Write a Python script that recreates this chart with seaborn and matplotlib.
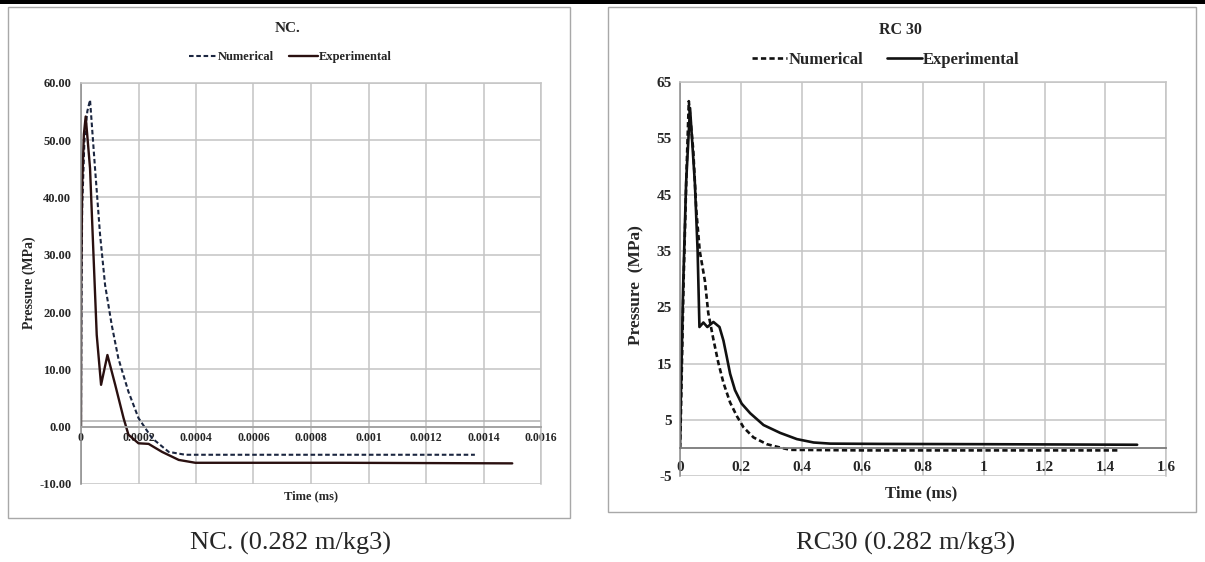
import matplotlib
matplotlib.use("Agg")
import matplotlib.pyplot as plt
import matplotlib.ticker as mticker
from matplotlib.patches import Rectangle
import pandas as pd
import seaborn as sns

# ---------------- data ----------------
# NC. panel  (time axis values as printed on the axis, pressure in MPa)
nc_num_time = [0, 0.0000015, 0.000004, 0.000012, 0.000022, 0.0000314, 0.0000489,
               0.0000663, 0.0000838, 0.000107, 0.00013, 0.000165, 0.0002,
               0.000247, 0.000305, 0.000363, 0.0008, 0.00137]
nc_num_pressure = [0, 20, 38, 50, 55, 57, 45, 33.5, 24.7, 17.7, 11.9, 6.1, 1.5,
                   -2.0, -4.4, -4.9, -4.9, -4.9]
nc_exp_time = [0, 0.0000005, 0.000004, 0.00001, 0.0000163, 0.0000314, 0.000043,
               0.0000547, 0.0000698, 0.0000919, 0.000119, 0.000148, 0.000165,
               0.0002, 0.000235, 0.000282, 0.00034, 0.000398, 0.0009, 0.0015]
nc_exp_pressure = [0, 25, 42, 51, 54.1, 45.1, 30.5, 16, 7.3, 12.5, 7.3, 1.5,
                   -1.4, -2.9, -3.0, -4.4, -5.8, -6.3, -6.3, -6.4]
nc_xticks = [0, 0.0002, 0.0004, 0.0006, 0.0008, 0.001, 0.0012, 0.0014, 0.0016]
nc_yticks = [-10, 0, 10, 20, 30, 40, 50, 60]
nc_ref_line = 1.0

# RC 30 panel
rc_num_time = [0, 0.003, 0.012, 0.022, 0.029, 0.0435, 0.054, 0.065, 0.082, 0.093,
               0.110, 0.126, 0.143, 0.165, 0.187, 0.209, 0.242, 0.286, 0.33,
               0.363, 0.6, 1.0, 1.44]
rc_num_pressure = [0, 6, 30, 50, 61.6, 53, 42, 35, 29.7, 24, 19.3, 15.2, 11.6,
                   8.1, 5.7, 3.7, 1.9, 0.7, 0.1, -0.3, -0.4, -0.4, -0.4]
rc_exp_time = [0, 0.002, 0.01, 0.02, 0.033, 0.049, 0.058, 0.064, 0.077, 0.090,
               0.110, 0.130, 0.143, 0.154, 0.165, 0.181, 0.203, 0.231, 0.275,
               0.33, 0.385, 0.44, 0.495, 0.66, 1.0, 1.505]
rc_exp_pressure = [0, 7, 28, 47, 60.4, 47, 35, 21.5, 22.3, 21.5, 22.4, 21.5,
                   19.1, 16.2, 13.2, 10.3, 7.9, 6.2, 4.1, 2.7, 1.6, 1.0, 0.8,
                   0.75, 0.7, 0.6]
rc_xticks = [0, 0.2, 0.4, 0.6, 0.8, 1.0, 1.2, 1.4, 1.6]
rc_yticks = [-5, 5, 15, 25, 35, 45, 55, 65]

series_labels = ["Numerical", "Experimental"]
panel_titles = ["NC.", "RC 30"]
captions = ["NC. (0.282 m/kg3)", "RC30 (0.282 m/kg3)"]

# ---------------- styling ----------------
sns.set_theme(style="white")
plt.rcParams["font.family"] = ["Liberation Serif", "DejaVu Serif"]
plt.rcParams["axes.unicode_minus"] = False

W, H = 1205, 562
fig = plt.figure(figsize=(W / 100, H / 100), dpi=100)
fig.patch.set_facecolor("white")

def fx(px):
    return px / W

def fy(py):
    return 1 - py / H

# top black rule
fig.patches.append(Rectangle((0, fy(4)), 1, 4 / H, transform=fig.transFigure,
                             facecolor="black", edgecolor="none"))
# panel boxes
for x0, x1, y0, y1 in [(8, 570, 7, 518), (608, 1196, 7, 512)]:
    fig.patches.append(Rectangle((fx(x0), fy(y1)), fx(x1 - x0), (y1 - y0) / H,
                                 transform=fig.transFigure, facecolor="none",
                                 edgecolor="#a8a8a8", linewidth=1.0))

grid_c = "#c4c4c4"

def style_axes(ax, zero_color):
    ax.set_facecolor("white")
    for s in ["top", "right"]:
        ax.spines[s].set_color(grid_c)
        ax.spines[s].set_linewidth(1.1)
    ax.spines["left"].set_color("#8a8a8a")
    ax.spines["left"].set_linewidth(1.1)
    ax.spines["bottom"].set_position(("data", 0))
    ax.spines["bottom"].set_color(zero_color)
    ax.spines["bottom"].set_linewidth(1.3)
    ax.grid(True, color=grid_c, linewidth=1.1)
    ax.set_axisbelow(True)

# ---------------- left panel: NC. ----------------
axL = fig.add_axes([fx(81), fy(484), fx(541 - 81), (484 - 82.7) / H])
dfLn = pd.DataFrame({"t": nc_num_time, "p": nc_num_pressure})
dfLe = pd.DataFrame({"t": nc_exp_time, "p": nc_exp_pressure})
sns.lineplot(data=dfLn, x="t", y="p", ax=axL, color="#1b2640", linewidth=1.5,
             label=series_labels[0], estimator=None, sort=False)
axL.lines[-1].set_dashes([2.2, 1.3])
sns.lineplot(data=dfLe, x="t", y="p", ax=axL, color="#2a1010", linewidth=1.7,
             label=series_labels[1], estimator=None, sort=False)
axL.axhline(nc_ref_line, color="#b0b0b0", linewidth=1.1, zorder=1)
axL.set_xlim(nc_xticks[0], nc_xticks[-1])
axL.set_ylim(nc_yticks[0], nc_yticks[-1])
axL.xaxis.set_major_locator(mticker.FixedLocator(nc_xticks))
axL.yaxis.set_major_locator(mticker.FixedLocator(nc_yticks))
axL.xaxis.set_major_formatter(mticker.FuncFormatter(lambda v, p: "%g" % round(v, 6)))
axL.yaxis.set_major_formatter(mticker.FormatStrFormatter("%.2f"))
style_axes(axL, "#a0a0a0")
axL.tick_params(axis="x", length=0, pad=4, labelsize=8.5)
axL.tick_params(axis="y", length=0, pad=7, labelsize=9)
for lab in axL.get_xticklabels() + axL.get_yticklabels():
    lab.set_fontweight("bold")
axL.set_xlabel("")
axL.set_ylabel("")
hL, _ = axL.get_legend_handles_labels()
axL.legend(handles=hL, labels=series_labels, loc="center",
           bbox_to_anchor=(fx(290), fy(57)), bbox_transform=fig.transFigure,
           ncol=2, frameon=False, handlelength=2.3, handletextpad=0.05,
           columnspacing=1.2, prop={"weight": "bold", "size": 9})
fig.text(fx(288), fy(28), panel_titles[0], ha="center", va="center",
         fontsize=11, fontweight="bold")
fig.text(fx(29), fy(283), "Pressure (MPa)", ha="center", va="center",
         rotation=90, fontsize=10, fontweight="bold")
fig.text(fx(311), fy(496), "Time (ms)", ha="center", va="center",
         fontsize=9, fontweight="bold")

# ---------------- right panel: RC 30 ----------------
axR = fig.add_axes([fx(680), fy(476.3), fx(1166 - 680), (476.3 - 82) / H])
dfRn = pd.DataFrame({"t": rc_num_time, "p": rc_num_pressure})
dfRe = pd.DataFrame({"t": rc_exp_time, "p": rc_exp_pressure})
sns.lineplot(data=dfRn, x="t", y="p", ax=axR, color="#111111", linewidth=1.9,
             label=series_labels[0], estimator=None, sort=False)
axR.lines[-1].set_dashes([2.0, 1.2])
sns.lineplot(data=dfRe, x="t", y="p", ax=axR, color="#111111", linewidth=1.9,
             label=series_labels[1], estimator=None, sort=False)
axR.set_xlim(rc_xticks[0], rc_xticks[-1])
axR.set_ylim(rc_yticks[0], rc_yticks[-1])
axR.xaxis.set_major_locator(mticker.FixedLocator(rc_xticks))
axR.yaxis.set_major_locator(mticker.FixedLocator(rc_yticks))
axR.xaxis.set_major_formatter(mticker.FuncFormatter(lambda v, p: "%g" % round(v, 6)))
axR.yaxis.set_major_formatter(mticker.FormatStrFormatter("%d"))
style_axes(axR, "#7a7a7a")
axR.tick_params(axis="x", length=0, pad=9, labelsize=11)
axR.tick_params(axis="y", length=0, pad=6, labelsize=11)
for lab in axR.get_xticklabels() + axR.get_yticklabels():
    lab.set_fontweight("bold")
axR.set_xlabel("")
axR.set_ylabel("")
hR, _ = axR.get_legend_handles_labels()
axR.legend(handles=hR, labels=series_labels, loc="center",
           bbox_to_anchor=(fx(886), fy(60)), bbox_transform=fig.transFigure,
           ncol=2, frameon=False, handlelength=2.1, handletextpad=0.05,
           columnspacing=1.45, prop={"weight": "bold", "size": 12})
fig.text(fx(900), fy(30), panel_titles[1], ha="center", va="center",
         fontsize=11.5, fontweight="bold")
fig.text(fx(636), fy(285), "Pressure  (MPa)", ha="center", va="center",
         rotation=90, fontsize=12.5, fontweight="bold")
fig.text(fx(921), fy(493), "Time (ms)", ha="center", va="center",
         fontsize=12, fontweight="bold")

# ---------------- captions ----------------
fig.text(fx(290), fy(543), captions[0], ha="center", va="center", fontsize=19)
fig.text(fx(906), fy(543), captions[1], ha="center", va="center", fontsize=19)

fig.savefig("out.png", dpi=100, facecolor="white")
